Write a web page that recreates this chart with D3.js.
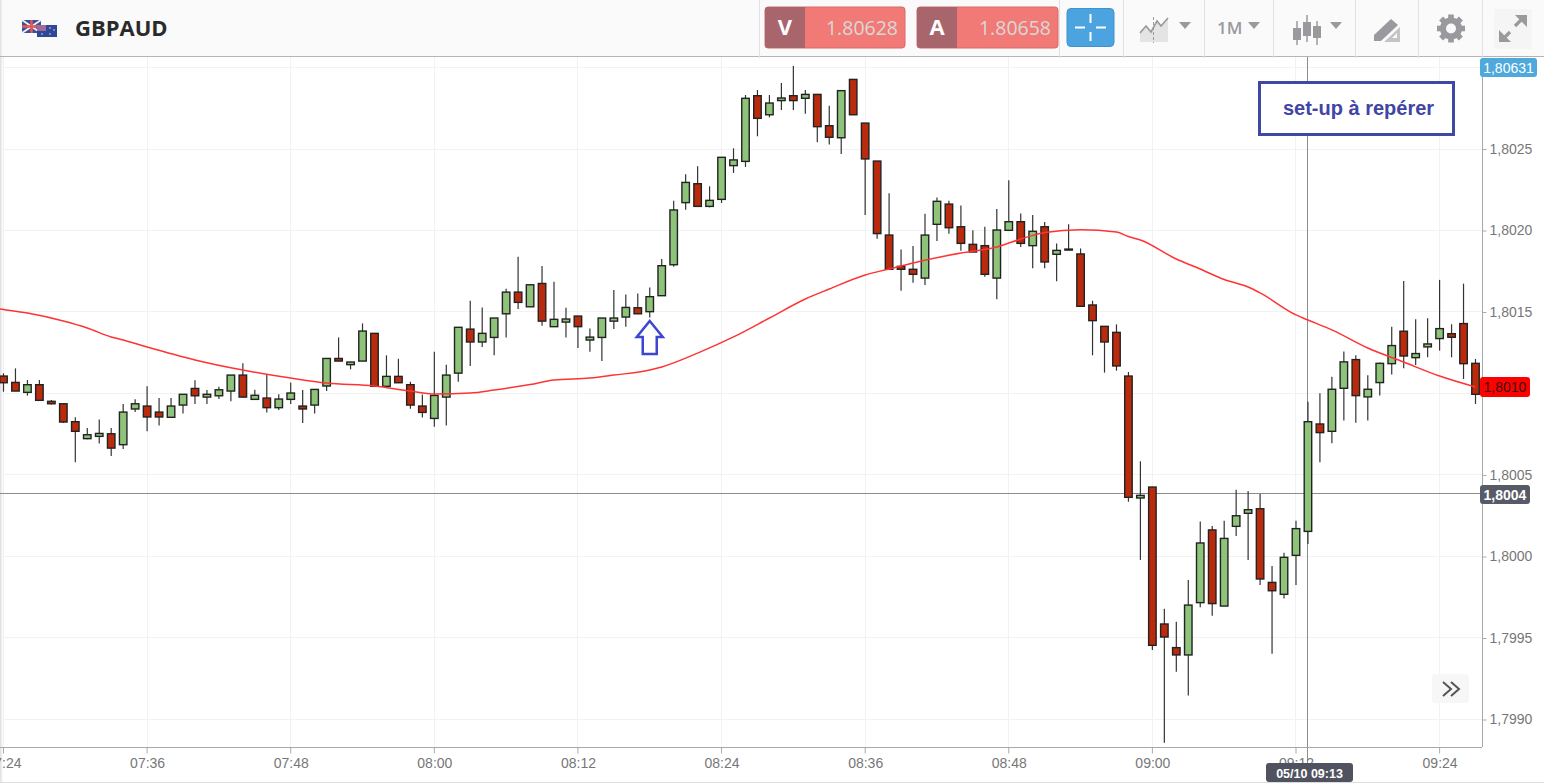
<!DOCTYPE html>
<html><head><meta charset="utf-8">
<script src="https://cdn.jsdelivr.net/npm/d3@7"></script>
<style>
html,body{margin:0;padding:0;background:#fff;overflow:hidden}
svg{display:block}
text{font-family:"Liberation Sans",Arial,sans-serif}
</style></head><body><svg id="c" width="1544" height="783"></svg>
<script>
// Prices are stored as points above 1.80000 (1 point = 0.00001).
const basePrice = 1.8;
const pointSize = 0.00001;
const symbol = "GBPAUD";
const bid = "1.80628", ask = "1.80658", timeframe = "1M";
const startMinute = 7*60+24;
const opens = [110.7,106.8,100.7,105.4,95.2,93.7,82.7,72.3,73.7,75.3,68.6,90.5,92.3,88.6,85.4,92.9,103.1,97.8,98.6,101.5,111.3,96.4,97.2,91.3,96.4,92.3,92.9,
104.6,121.5,117.7,119.9,136.9,104.4,110.5,105.4,92.3,84.7,97.8,112.5,139.5,131.6,134.4,148.9,162.2,153.2,167.5,141,143.8,147.5,132.8,134.4,144.4,146.9,152.6,150.2,160,
179,217.1,228.7,214.8,219.1,239.8,242.4,282.7,271,279.7,282.7,281.1,283.5,264.3,256.9,292.7,265.9,242.6,
197.2,178,176.2,170.8,203.8,216.2,202.3,191.5,190.7,170.8,200.1,205.4,190.7,202.3,185.4,188.6,185.6,154.3,141.2,137.5,
110.7,35.9,42.6,-41.4,-55.9,-60.4,-28.3,16.3,-30.4,18.5,26.5,29.3,-15.9,-23.2,0.7,15.4,81.3,
76.8,103.2,120.8,97.9,106.7,118.3,138.2,122,128.6,133.7,136.7,142.9,118.5];
const closes = [106.6,101.5,105.4,95.8,93.7,82.5,76.8,74.7,75.5,66.5,88.6,93.7,85.6,85.6,92.3,99.5,98.6,99.5,102.3,111.3,97.8,98.9,91.3,96.6,100.3,90.5,102.5,
121.5,119.9,119.3,138.3,104.4,110.5,106.6,92.9,88.4,98.8,111.3,140.6,131.6,136.9,146.3,162.2,155.9,166.7,144.4,145.5,145.7,141,134.6,146.3,146.3,152.8,148.9,159.4,178.4,
212.6,229.5,214.8,218.5,244.9,243.3,281.1,268.8,278.2,281.3,279.7,283.5,263.7,257.2,285.8,271,243.9,198.1,
176.2,176.2,173.1,197.2,217.9,201.7,192.1,186.8,173.1,200.3,205.4,192.1,199.5,180.7,187.8,188.4,153.5,144.7,131.6,116.9,
36.3,37.5,-54.5,-49.4,-60.4,-29.8,8.3,-28.9,11.1,25,28.7,-13.8,-21,-0.5,17.1,82.7,76,
102.6,119.4,98.7,102.6,118.5,129.4,123,124.5,130.4,139.8,134.5,118.3,99.5];
const highs = [112.4,115.4,108.3,108.3,96,93.9,85.4,78.8,84.1,78.8,93.5,96.4,104.4,97.2,97.2,99.5,108.1,102.1,104.2,111.3,118.5,102.3,111.3,99.5,106.8,102.1,102.5,
121.5,134.4,119.5,143,136.9,123.4,121.3,107.2,99.4,125.6,117.7,140.6,156.9,152.8,146.3,164.3,183.9,166.7,178.2,168.6,152.6,147.7,139.9,146.3,163.5,160.8,161.4,165.1,182.5,
218.3,234.5,239.4,227.1,244.9,250.4,283.1,286.2,283.1,290.5,300.9,286.2,283.5,276.6,285.8,292.7,265.9,242.6,
222.8,188.4,190.5,210.3,220.3,218.3,215.4,200.1,202.3,213.2,230.8,210.5,209.5,205.2,192.1,203.8,189,156.9,141.2,142.4,
113.2,58.4,42.8,-32,-40,-14.4,21.4,18.7,22,41,40.2,38.3,-5.8,2.3,22,95,100.1,
110.3,125.7,123.4,111.2,119,141,169,145.5,146.1,169.7,142.5,167.4,121.2];
const lows = [101.1,101.5,98.7,95.4,93.3,81.9,57.8,71.9,69.4,61.6,65.9,88.6,76.8,80.4,85.4,87.8,93.5,93.5,96.6,95.2,97.8,96.4,88.4,89.9,93.5,81.9,87.8,
101.5,119.9,114.8,119.9,104.4,104.4,106.6,90.7,85.3,79.6,80.4,107.2,116.8,128.5,123.4,134.4,151.8,153.2,141.6,141,134.4,127.9,125.6,119.9,139.5,141,148.9,146.7,160,
177.8,212.8,214.8,214.2,216.9,235.3,239,257.8,269.4,273.9,273.9,271.7,254.1,252.7,246.9,271,209.5,195,
176.2,163.1,168,166.5,193.5,198,187.6,186.8,171.7,157.8,200.1,189.9,176.8,176.8,168.8,188.4,153.1,123.4,112.8,114,
33.6,-2.1,-57.4,-114.2,-70.7,-85.2,-31.2,-36.3,-30.4,12.6,-2.1,-17.5,-59.6,-25.7,-17.5,7.7,57.8,
69.5,83.4,82.1,83.4,98.7,111.6,115.5,117.5,122.2,126.3,122.2,108.9,93.6];
// moving average: minute index after 07:24, and its value in points
const maMinutes = [-1,0,2,5,7,9,10,12,16,20,24,27,31,34,36,39,41,44,46,49,51,54,55,58,61,64,67,69,72,74,76,80,83,85,87,90,93,94,95,98,100,102,104,105,108,109,111,114,117,120,123];
const maPoints = [152.5,151.5,149.4,144.5,140.2,134.7,132.8,128.5,120.6,114.4,109.5,106.4,104.6,101.5,99.7,100.3,102.1,105.5,108.3,109.5,111.3,114.4,116.3,124.8,134.7,146.3,158,164.1,172.7,176.4,180.1,186.2,189.9,194.8,198.8,200.5,199.1,196.3,194.2,182.5,176.4,169.9,165.3,161.7,148.2,145.1,139,127.9,119.3,110.7,104];
const yTicks = [1.799,1.7995,1.8,1.8005,1.801,1.8015,1.802,1.8025,1.803];
const coveredYTicks = [1.801,1.803]; // these two labels sit behind the price tags in the reference
const xTickMinutes = [0,12,24,36,48,60,72,84,96,108,120];
const annotation = "set-up à repérer";
const lastPriceLabel = "1,80631", currentLabel = "1,8010", crossPriceLabel = "1,8004", crossTimeLabel = "05/10 09:13";
const crossMinute = 109, crossPrice = 1.80039;
const arrowMinute = 54;

const price = p => basePrice + p*pointSize;
const svg = d3.select("#c");
const x = d3.scaleLinear().domain([0,123]).range([3.5,1475.5]);
const y = d3.scaleLinear().domain([1.799,1.8025]).range([719.5,149]);
const plotR = 1482, plotT = 57, plotB = 747;
const fmtTime = m => { const t = startMinute+m; return d3.format("02")(Math.floor(t/60))+":"+d3.format("02")(t%60); };
const fmtPrice = d => coveredYTicks.includes(d) ? "" : d3.format(".4f")(d).replace(".",",");

svg.append("defs").append("clipPath").attr("id","plot").append("rect").attr("x",0).attr("y",plotT).attr("width",plotR).attr("height",plotB-plotT);
const leftGrad = svg.select("defs").append("linearGradient").attr("id","lg");
leftGrad.append("stop").attr("offset",0).attr("stop-color","#ddd");
leftGrad.append("stop").attr("offset",1).attr("stop-color","#fff");

// grid
const grid = svg.append("g").attr("stroke","#f2f2f2").attr("stroke-width",1);
grid.selectAll(".h").data(yTicks).join("line").attr("x1",0).attr("x2",plotR).attr("y1",d=>Math.floor(y(d))+.5).attr("y2",d=>Math.floor(y(d))+.5);
grid.selectAll(".v").data(xTickMinutes).join("line").attr("y1",plotT).attr("y2",plotB).attr("x1",d=>Math.floor(x(d))+.5).attr("x2",d=>Math.floor(x(d))+.5);
svg.append("rect").attr("x",0).attr("y",0).attr("width",3).attr("height",783).attr("fill","url(#lg)");

// crosshair
const cross = svg.append("g").attr("stroke","#8c8c8c").attr("stroke-width",1);
cross.append("line").attr("x1",0).attr("x2",plotR).attr("y1",Math.round(y(crossPrice))+.5).attr("y2",Math.round(y(crossPrice))+.5);
cross.append("line").attr("x1",Math.floor(x(crossMinute))+.5).attr("x2",Math.floor(x(crossMinute))+.5).attr("y1",plotT).attr("y2",783);

// candles
const candleIdx = d3.range(opens.length);
const plot = svg.append("g").attr("clip-path","url(#plot)");
plot.selectAll(".w").data(candleIdx).join("line")
  .attr("x1",i=>x(i)).attr("x2",i=>x(i)).attr("y1",i=>y(price(highs[i]))).attr("y2",i=>y(price(lows[i])))
  .attr("stroke","#333").attr("stroke-width",1.2);
plot.selectAll(".b").data(candleIdx).join("rect")
  .attr("x",i=>x(i)-3.75).attr("width",7.5)
  .attr("y",i=>y(price(Math.max(opens[i],closes[i]))))
  .attr("height",i=>Math.max(Math.abs(y(price(opens[i]))-y(price(closes[i]))),1))
  .attr("fill",i=>closes[i]>=opens[i]?"#8DC47A":"#B92B0C")
  .attr("stroke","#222").attr("stroke-width",1.4);

// moving average
const line = d3.line().x(d=>x(d[0])).y(d=>y(price(d[1]))).curve(d3.curveMonotoneX);
plot.append("path").datum(d3.zip(maMinutes,maPoints)).attr("d",line).attr("fill","none").attr("stroke","#FF3333").attr("stroke-width",1.5);

// axes
const yAxis = svg.append("g").attr("transform",`translate(${plotR+.5},0)`)
  .call(d3.axisRight(y).tickValues(yTicks).tickFormat(fmtPrice).tickSize(4).tickPadding(3));
const xAxis = svg.append("g").attr("transform",`translate(0,${plotB+.5})`)
  .call(d3.axisBottom(x).tickValues(xTickMinutes).tickFormat(fmtTime).tickSize(6).tickPadding(5));
for (const a of [yAxis,xAxis]) {
  a.select(".domain").attr("stroke","#a8a8a8").attr("stroke-width",1);
  a.selectAll(".tick line").attr("stroke","#aaa");
  a.selectAll("text").attr("fill","#777").attr("font-size",14).attr("font-family",'"Liberation Sans",Arial,sans-serif');
}
yAxis.select(".domain").attr("d",`M0,${plotT}V${plotB}`);
xAxis.select(".domain").attr("d",`M0,0H${plotR}`);
xAxis.selectAll(".tick line").attr("transform","translate(-0.5,0)");

// header
const h = svg.append("g");
h.append("rect").attr("width",1544).attr("height",56).attr("fill","#fafafa");
h.append("line").attr("x1",0).attr("x2",1544).attr("y1",56.5).attr("y2",56.5).attr("stroke","#b4b4b4");
h.append("rect").attr("x",0).attr("y",0).attr("width",3).attr("height",56).attr("fill","url(#lg)");
[759,1059,1123,1204,1273,1355,1418,1482].forEach(v=>h.append("line").attr("x1",v+.5).attr("x2",v+.5).attr("y1",0).attr("y2",58).attr("stroke","#e2e2e2"));
// flags
const flag = h.append("g");
flag.append("rect").attr("x",22).attr("y",20).attr("width",19).attr("height",13).attr("fill","#3d4f9c");
flag.append("path").attr("d","M22,20L41,33M41,20L22,33").attr("stroke","#eee").attr("stroke-width",2);
flag.append("path").attr("d","M31.5,20V33M22,26.5H41").attr("stroke","#e8584f").attr("stroke-width",2.4);
flag.append("rect").attr("x",37).attr("y",25).attr("width",20).attr("height",12).attr("fill","#2f4797");
flag.append("rect").attr("x",37).attr("y",25).attr("width",9).attr("height",6).attr("fill","#9c6d9a");
flag.selectAll(".s").data([[50,28],[54,30],[50,34],[42,34]]).join("circle").attr("cx",d=>d[0]).attr("cy",d=>d[1]).attr("r",.8).attr("fill","#dfe4f4");
h.append("text").attr("x",75).attr("y",36).text(symbol).attr("font-size",22).attr("font-weight",700).attr("fill","#2a2a2a").style("font-family","'Open Sans'");
// quote buttons
const quote = (x0,w,ltr,val) => {
  h.append("rect").attr("x",x0).attr("y",7).attr("width",w).attr("height",41).attr("rx",3).attr("fill","#F27A76").attr("stroke","#d9696a");
  h.append("path").attr("d",`M${x0+40},7H${x0+3}a3,3 0 0 0 -3,3V45a3,3 0 0 0 3,3H${x0+40}Z`).attr("fill","#A8666C");
  h.append("text").attr("x",x0+20).attr("y",35).attr("text-anchor","middle").text(ltr).attr("font-size",22).attr("font-weight",700).attr("fill","#fff").style("font-family","'Open Sans'");
  h.append("text").attr("x",x0+w-7).attr("y",35).attr("text-anchor","end").text(val).attr("font-size",19.5).attr("fill","#d8d8d8").style("font-family","'Open Sans'");
};
quote(765,140,"V",bid);
quote(917,141,"A",ask);
h.append("rect").attr("x",1067).attr("y",8.5).attr("width",47).attr("height",38).attr("rx",4).attr("fill","#4BA3E0").attr("stroke","#3d92cf");
h.append("path").attr("d","M1090.5,14V23M1090.5,32V41M1075,27.5H1085M1096,27.5H1106").attr("stroke","#fff").attr("stroke-width",2);
// toolbar icons
const grey="#9a9a9e";
const tri=(cx)=>h.append("path").attr("d",`M${cx-6},22H${cx+6}L${cx},29Z`).attr("fill",grey);
h.append("path").attr("d","M1140,42V31L1146,26L1151,31L1157,21L1161,25L1168,19V42Z").attr("fill","#e4e4e4");
h.append("path").attr("d","M1140,33L1146,26L1151,32L1157,21L1161,26L1168,18").attr("fill","none").attr("stroke",grey).attr("stroke-width",1.6);
h.append("line").attr("x1",1153.5).attr("x2",1153.5).attr("y1",17).attr("y2",43).attr("stroke",grey).attr("stroke-dasharray","3 2");
tri(1185);
h.append("text").attr("x",1217).attr("y",34).text(timeframe).attr("font-size",17).attr("font-weight",600).attr("fill",grey).style("font-family","'Open Sans'");
tri(1254);
[[1297,28,40,21,45],[1307,22,36,15,42],[1317,26,38,21,45]].forEach(c=>{
  h.append("line").attr("x1",c[0]).attr("x2",c[0]).attr("y1",c[3]).attr("y2",c[4]).attr("stroke",grey).attr("stroke-width",1.5);
  h.append("rect").attr("x",c[0]-4).attr("y",c[1]).attr("width",8).attr("height",c[2]-c[1]).attr("fill",grey);
});
tri(1336);
h.append("path").attr("d","M1374,35L1391,19L1398,25L1381,41H1374Z").attr("fill",grey);
h.append("path").attr("d","M1384,42L1400,27V42ZM1392,38H1397V33Z").attr("fill","#c4c4c4").attr("fill-rule","evenodd");
// gear
const gear = h.append("g").attr("transform","translate(1451,28.5)");
gear.selectAll("rect").data(d3.range(8)).join("rect").attr("x",-2.8).attr("y",-14).attr("width",5.6).attr("height",7).attr("fill",grey).attr("transform",i=>`rotate(${i*45})`);
gear.append("circle").attr("r",8).attr("fill","none").attr("stroke",grey).attr("stroke-width",6);
// expand
h.append("rect").attr("x",1494).attr("y",9).attr("width",38).attr("height",40).attr("fill","#f5f5f5");
h.append("path").attr("d","M1503,39L1510,32M1515,26L1523,18").attr("stroke",grey).attr("stroke-width",3.2);
h.append("path").attr("d","M1499,30V42H1511ZM1527,15H1515L1527,27Z").attr("fill",grey);

// annotations
svg.append("rect").attr("x",1259.5).attr("y",82.5).attr("width",194).attr("height",52).attr("fill","#fff").attr("stroke","#3F48A5").attr("stroke-width",3);
svg.append("text").attr("x",1358.5).attr("y",115).attr("text-anchor","middle").text(annotation).attr("font-size",20).attr("font-weight",700).attr("fill","#4045A6");
const ax = x(arrowMinute);
const arrowPts = [[0,321],[13,337],[7,337],[7,354],[-7,354],[-7,337],[-13,337]];
svg.append("polygon").attr("points",arrowPts.map(p=>[ax+p[0],p[1]].join(",")).join(" ")).attr("fill","#fff").attr("stroke","#3D46D0").attr("stroke-width",2.5);

// price and time labels
const tag=(x0,y0,w,hh,fill,txt,col,bold,fs)=>{
  svg.append("rect").attr("x",x0).attr("y",y0).attr("width",w).attr("height",hh).attr("rx",3).attr("fill",fill);
  svg.append("text").attr("x",x0+w/2).attr("y",y0+hh/2+5).attr("text-anchor","middle").text(txt).attr("fill",col).attr("font-size",fs).attr("font-weight",bold);
};
tag(1480,58,57,19,"#4FA9DC",lastPriceLabel,"#fff",400,14);
tag(1480,377,50,20,"#FF0000",currentLabel,"#3a1010",400,14);
tag(1480,485,50,19,"#575B68",crossPriceLabel,"#fff",700,14);
tag(1266,763,87,19,"#50535F",crossTimeLabel,"#fff",700,12.5);
svg.append("line").attr("x1",0).attr("x2",1544).attr("y1",782.5).attr("y2",782.5).attr("stroke","#dcdcdc");

// scroll button
svg.append("rect").attr("x",1432).attr("y",674).attr("width",37).attr("height",29).attr("rx",3).attr("fill","#f7f7f7");
svg.append("path").attr("d","M1443,682L1451,689L1443,696M1451,682L1459,689L1451,696").attr("fill","none").attr("stroke","#555").attr("stroke-width",2);
</script></body></html>
